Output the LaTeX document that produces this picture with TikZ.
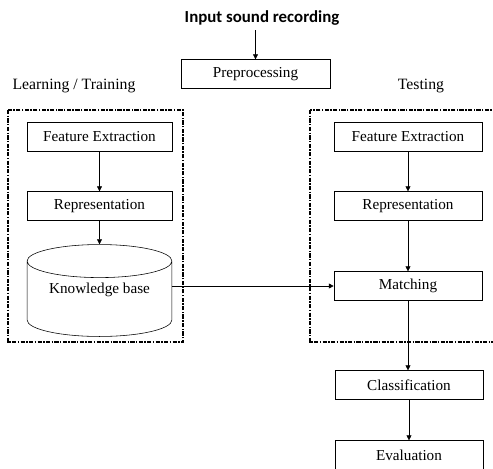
\documentclass[tikz,border=0pt]{standalone}
\usepackage{fontspec}
\setmainfont{Liberation Serif}
\newfontfamily\titlefont{Carlito}
\usetikzlibrary{arrows.meta,positioning,shapes.geometric}

\begin{document}
\begin{tikzpicture}[x=0.025cm, y=-0.025cm,
        box/.style={draw, thin, fill=white, align=center, font=\fontsize{10.8}{12}\selectfont, inner sep=2pt, minimum width=3.7cm, minimum height=0.72cm},
        db/.style={draw, thin, cylinder, shape border rotate=90, aspect=0.3, align=center, font=\fontsize{10.8}{12}\selectfont, text depth=0.7cm, minimum width=3.62cm, minimum height=2.15cm},
        group/.style={draw, line width=1.3pt, dash pattern=on 3pt off 1pt on 1pt off 1pt},
        lbl/.style={font=\fontsize{11.2}{13}\selectfont},
        arr/.style={-{Triangle[length=3.5pt, width=3.5pt]}, thin}]

        \clip (0,0) rectangle (493,468);

        % groups
        \draw[group] (8,110) rectangle (183,342);
        \draw[group] (310,110) rectangle (505,342);

        \node[font=\titlefont\bfseries\fontsize{12}{14}\selectfont] (in) at (262,18) {Input sound recording};
        \node[box, minimum width=3.72cm] (pre) at (255.5,74) {Preprocessing};

        \node[lbl] (learn) at (74,86) {Learning / Training};
        \node[lbl] (test) at (421,86) {Testing};

        % training side
        \node[box, minimum width=3.62cm] (fe1) at (99.5,137) {Feature Extraction};
        \node[box, minimum width=3.62cm] (rep1) at (99.5,206) {Representation};
        \node[db, anchor=shape center] (kb) at (99.5,290.5) {Knowledge base};

        % testing side
        \node[box] (fe2) at (408,137) {Feature Extraction};
        \node[box] (rep2) at (408,206) {Representation};
        \node[box] (match) at (408,286) {Matching};
        \node[box] (cls) at (409,385) {Classification};
        \node[box] (eval) at (409,455) {Evaluation};

        \draw[arr] (in.south -| pre) -- (pre);
        \draw[arr] (fe1) -- (rep1);
        \draw[arr] (rep1) -- (kb);
        \draw[arr] (kb.east |- match) -- (match);
        \draw[arr] (fe2) -- (rep2);
        \draw[arr] (rep2) -- (match);
        \draw[arr] (match) -- (match |- cls.north);
        \draw[arr] (cls) -- (cls |- eval.north);
      \end{tikzpicture}
\end{document}
